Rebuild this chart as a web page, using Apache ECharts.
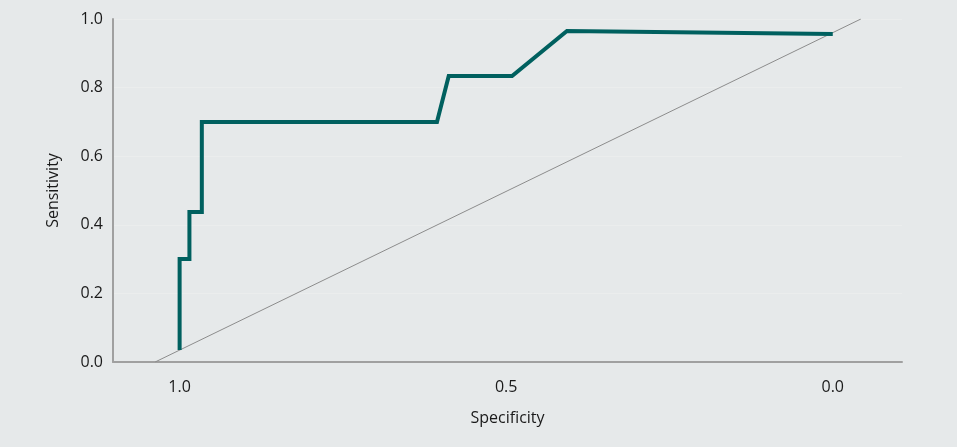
<!DOCTYPE html>
<html><head><meta charset="utf-8">
<script src="https://cdn.jsdelivr.net/npm/echarts@6/dist/echarts.min.js"></script>
<style>html,body{margin:0;padding:0;background:#e6e9ea;}#c{width:957px;height:447px;}</style>
</head><body><div id="c"></div>
<script>
// Data
const specificity = [1.0, 1.0, 0.985, 0.985, 0.966, 0.966, 0.606, 0.588, 0.491, 0.407, 0.0];
const sensitivity = [0.035, 0.30, 0.30, 0.437, 0.437, 0.70, 0.70, 0.834, 0.834, 0.965, 0.956];
const refSpec = [1.0375, -0.043];
const refSens = [0.0, 1.0];
const xTicks = [1.0, 0.5, 0.0];
const yTicks = [0.0, 0.2, 0.4, 0.6, 0.8, 1.0];

const chart = echarts.init(document.getElementById('c'));
const font = "'Open Sans', 'Noto Sans', sans-serif";
chart.setOption({
  backgroundColor: '#e6e9ea',
  animation: false,
  grid: {left: 113, right: 55, top: 19, bottom: 85},
  xAxis: {
    type: 'value', inverse: true, min: -0.106, max: 1.102,
    name: 'Specificity', nameLocation: 'middle', nameGap: 48,
    nameTextStyle: {fontFamily: font, fontSize: 16, color: '#1a1a1a'},
    axisLine: {show: true, onZero: false, lineStyle: {color: '#a0a0a0', width: 2}},
    axisTick: {show: false},
    splitLine: {show: false},
    axisLabel: {customValues: xTicks, fontFamily: font, fontSize: 16, color: '#1a1a1a', margin: 17,
      formatter: v => v.toFixed(1)}
  },
  yAxis: {
    type: 'value', min: 0, max: 1, interval: 0.2,
    name: 'Sensitivity', nameLocation: 'middle', nameGap: 52,
    nameTextStyle: {fontFamily: font, fontSize: 16, color: '#1a1a1a'},
    axisLine: {show: true, onZero: false, lineStyle: {color: '#a0a0a0', width: 2}},
    axisTick: {show: false},
    splitLine: {show: true, lineStyle: {color: '#ebeded', width: 1}},
    axisLabel: {customValues: yTicks, fontFamily: font, fontSize: 16, color: '#1a1a1a', margin: 10,
      formatter: v => v.toFixed(1)}
  },
  series: [
    {type: 'line', data: refSpec.map((x, i) => [x, refSens[i]]), symbol: 'none',
      lineStyle: {color: '#8c8c8c', width: 1}, z: 2},
    {type: 'line', data: specificity.map((x, i) => [x, sensitivity[i]]), symbol: 'none',
      lineStyle: {color: '#00605f', width: 4, join: 'miter', cap: 'butt'}, z: 3}
  ]
});
</script></body></html>
